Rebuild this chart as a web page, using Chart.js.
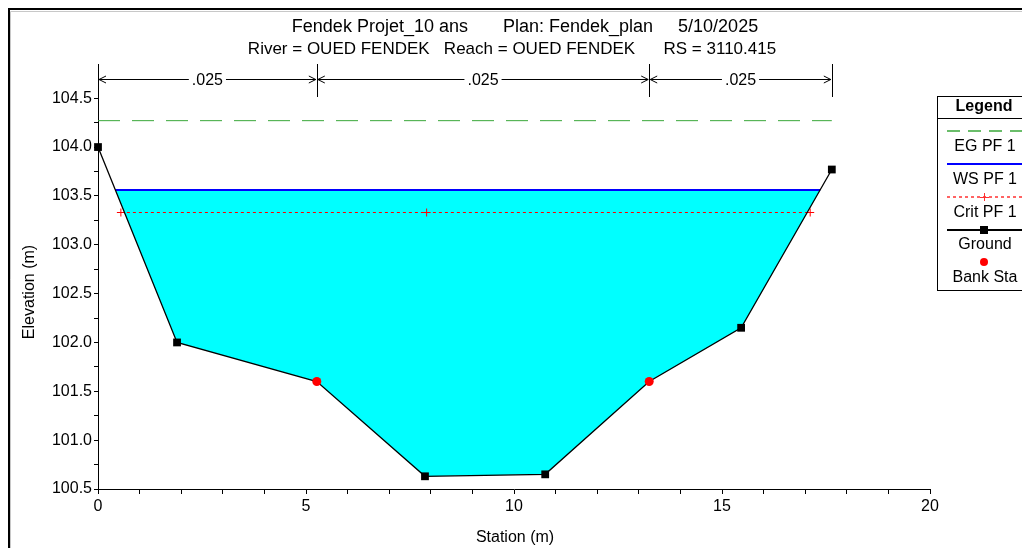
<!DOCTYPE html>
<html>
<head>
<meta charset="utf-8">
<script src="https://cdn.jsdelivr.net/npm/chart.js@4.4.1/dist/chart.umd.min.js"></script>
<style>
  body { margin: 0; background: #fff; }
  #wrap { width: 1022px; height: 548px; position: relative; }
</style>
</head>
<body>
<div id="wrap"><canvas id="xsChart" width="1022" height="548"></canvas></div>
<script>
// cross section data
const groundStation = [0, 1.9, 5.26, 7.86, 10.75, 13.25, 15.46, 17.64];
const groundElev = [104.0, 102.0, 101.6, 100.63, 100.65, 101.6, 102.15, 103.77];
const bankStation = [5.26, 13.25];
const bankElev = [101.6, 101.6];

const wsElev = 103.56;
const wsStation = [0.42, 17.36];
const critElev = 103.33;
const critStation = [0.55, 7.9, 17.12];
const egElev = 104.27;
const egStation = [0, 17.64];

// manning n blocks along the top
const nBreaks = [0, 5.26, 13.25, 17.64];
const nLabels = ['.025', '.025', '.025'];

const titleLine1 = 'Fendek Projet_10 ans       Plan: Fendek_plan     5/10/2025';
const titleLine2 = 'River = OUED FENDEK   Reach = OUED FENDEK      RS = 3110.415';

const narrow = '"Liberation Sans Narrow", "Arial Narrow", "Liberation Sans", Arial, sans-serif';
const plain = '"Liberation Sans", Arial, sans-serif';

const toPts = (xs, ys) => xs.map((x, i) => ({ x: x, y: Array.isArray(ys) ? ys[i] : ys }));

// water polygon: surface edge to edge then down along the ground
const waterPts = [{ x: wsStation[0], y: wsElev }];
groundStation.forEach((x, i) => {
    if (x > wsStation[0] && x < wsStation[1]) waterPts.push({ x: x, y: groundElev[i] });
});
waterPts.push({ x: wsStation[1], y: wsElev });
waterPts.push({ x: wsStation[0], y: wsElev });

const decorPlugin = {
    id: 'decor',
    beforeDraw(chart) {
        const c = chart.ctx;
        c.save();
        c.fillStyle = '#fff';
        c.fillRect(0, 0, chart.width, chart.height);
        // outer frame
        c.strokeStyle = '#c8c8c8';
        c.lineWidth = 1;
        c.beginPath();
        c.moveTo(10.5, 548); c.lineTo(10.5, 11.5); c.lineTo(1022, 11.5);
        c.stroke();
        c.strokeStyle = '#000';
        c.lineWidth = 2;
        c.beginPath();
        c.moveTo(9, 548); c.lineTo(9, 9); c.lineTo(1022, 9);
        c.stroke();
        c.restore();
    },
    afterDraw(chart) {
        const c = chart.ctx;
        const xs = chart.scales.x;
        c.save();
        // titles
        c.fillStyle = '#000';
        c.textAlign = 'center';
        c.textBaseline = 'middle';
        c.font = '18px ' + narrow;
        c.fillText(titleLine1, 525, 27);
        c.font = '17px ' + narrow;
        c.fillText(titleLine2, 512, 49);

        // n value dimension lines
        const yDim = 79;
        c.strokeStyle = '#000';
        c.lineWidth = 1;
        nBreaks.forEach((b) => {
            const px = Math.round(xs.getPixelForValue(b)) + 0.5;
            c.beginPath();
            c.moveTo(px, 64); c.lineTo(px, 97);
            c.stroke();
        });
        c.font = '16px ' + narrow;
        nLabels.forEach((lab, i) => {
            const x0 = xs.getPixelForValue(nBreaks[i]) + 1;
            const x1 = xs.getPixelForValue(nBreaks[i + 1]) - 1;
            const mid = (x0 + x1) / 2;
            const tw = c.measureText(lab).width + 6;
            c.beginPath();
            c.moveTo(x0, yDim + 0.5); c.lineTo(mid - tw / 2, yDim + 0.5);
            c.moveTo(mid + tw / 2, yDim + 0.5); c.lineTo(x1, yDim + 0.5);
            c.stroke();
            // arrow heads
            c.beginPath();
            c.moveTo(x0 + 7, yDim - 3); c.lineTo(x0, yDim + 0.5); c.lineTo(x0 + 7, yDim + 4);
            c.moveTo(x1 - 7, yDim - 3); c.lineTo(x1, yDim + 0.5); c.lineTo(x1 - 7, yDim + 4);
            c.stroke();
            c.fillText(lab, mid, yDim + 2);
        });

        // axis titles
        c.font = '16px ' + narrow;
        c.fillText('Station (m)', 515, 538);
        c.save();
        c.translate(30, 292);
        c.rotate(-Math.PI / 2);
        c.font = '16px ' + plain;
        c.fillText('Elevation (m)', 0, 0);
        c.restore();

        // legend box
        const lx = 937.5, ly = 96.5;
        c.strokeStyle = '#000';
        c.lineWidth = 1;
        c.strokeRect(lx, ly, 100, 194);
        c.beginPath();
        c.moveTo(lx, 118.5); c.lineTo(1022, 118.5);
        c.stroke();
        c.font = 'bold 16px ' + plain;
        c.fillText('Legend', 984, 107);
        c.font = '16px ' + plain;
        const sx0 = 947, sx1 = 1022;
        // EG
        c.strokeStyle = '#3aa83a';
        c.lineWidth = 1.5;
        c.setLineDash([13, 8]);
        c.beginPath(); c.moveTo(sx0, 131); c.lineTo(sx1, 131); c.stroke();
        c.setLineDash([]);
        c.fillText('EG PF 1', 985, 147);
        // WS
        c.strokeStyle = '#0000ff';
        c.lineWidth = 2;
        c.beginPath(); c.moveTo(sx0, 164); c.lineTo(sx1, 164); c.stroke();
        c.fillText('WS PF 1', 985, 180);
        // Crit
        c.strokeStyle = '#ff3030';
        c.lineWidth = 1.5;
        c.setLineDash([3, 3]);
        c.beginPath(); c.moveTo(sx0, 197); c.lineTo(sx1, 197); c.stroke();
        c.setLineDash([]);
        c.lineWidth = 1;
        c.beginPath(); c.moveTo(984.5, 193); c.lineTo(984.5, 201); c.moveTo(980, 197.5); c.lineTo(989, 197.5); c.stroke();
        c.fillText('Crit PF 1', 985, 213);
        // Ground
        c.strokeStyle = '#000';
        c.lineWidth = 2;
        c.beginPath(); c.moveTo(sx0, 230); c.lineTo(sx1, 230); c.stroke();
        c.fillStyle = '#000';
        c.fillRect(980, 226, 8, 8);
        c.fillText('Ground', 985, 245);
        // Bank
        c.fillStyle = '#ff0000';
        c.beginPath(); c.arc(984, 262, 4, 0, Math.PI * 2); c.fill();
        c.fillStyle = '#000';
        c.fillText('Bank Sta', 985, 278);
        c.restore();
    }
};

const fixedAxis = (size) => (scale) => {
    if (scale.isHorizontal()) scale.height = size; else scale.width = size;
};

const xsChart = new Chart(document.getElementById('xsChart'), {
    type: 'scatter',
    data: {
        datasets: [
            {
                label: 'Water',
                data: waterPts,
                showLine: true,
                borderWidth: 0,
                borderColor: 'rgba(0,0,0,0)',
                backgroundColor: '#00ffff',
                fill: 'shape',
                pointRadius: 0,
                order: 5
            },
            {
                label: 'EG PF 1',
                data: toPts(egStation, egElev),
                showLine: true,
                borderColor: '#3aa83a',
                borderWidth: 1,
                borderDash: [22, 12],
                pointRadius: 0,
                order: 4
            },
            {
                label: 'WS PF 1',
                data: toPts(wsStation, wsElev),
                showLine: true,
                borderColor: '#0000ff',
                borderWidth: 2,
                pointRadius: 0,
                order: 3
            },
            {
                label: 'Crit PF 1',
                data: toPts(critStation, critElev),
                showLine: true,
                borderColor: '#ff0000',
                borderWidth: 1,
                borderDash: [3, 3],
                pointStyle: 'cross',
                pointRadius: 4,
                pointBorderColor: '#ff0000',
                pointBorderWidth: 1,
                order: 2
            },
            {
                label: 'Ground',
                data: toPts(groundStation, groundElev),
                showLine: true,
                clip: false,
                borderColor: '#000',
                borderWidth: 1.3,
                pointStyle: 'rect',
                // bank stations get the red dot instead of a square
                pointRadius: (ctx) => (bankStation.includes(groundStation[ctx.dataIndex]) ? 0 : 5.5),
                pointBackgroundColor: '#000',
                pointBorderColor: '#000',
                pointBorderWidth: 0,
                order: 1
            },
            {
                label: 'Bank Sta',
                data: toPts(bankStation, bankElev),
                showLine: false,
                clip: false,
                pointStyle: 'circle',
                pointRadius: 4.5,
                pointBackgroundColor: '#ff0000',
                pointBorderColor: '#ff0000',
                pointBorderWidth: 0,
                order: 0
            }
        ]
    },
    options: {
        responsive: false,
        animation: false,
        layout: { padding: { top: 64, right: 92, left: 0, bottom: 0 } },
        plugins: {
            legend: { display: false },
            tooltip: { enabled: false }
        },
        scales: {
            x: {
                type: 'linear',
                min: 0,
                max: 20,
                afterFit: fixedAxis(59),
                border: { display: true, color: '#000', width: 1 },
                grid: { drawOnChartArea: false, tickLength: 5, color: '#000' },
                ticks: {
                    stepSize: 1,
                    autoSkip: false,
                    maxRotation: 0,
                    padding: 3,
                    color: '#000',
                    font: { family: narrow, size: 16 },
                    callback: (v) => (v % 5 === 0 ? String(v) : '')
                }
            },
            y: {
                type: 'linear',
                min: 100.5,
                max: 104.85,
                afterFit: fixedAxis(98),
                afterBuildTicks: (scale) => {
                    scale.ticks = scale.ticks.filter((t) => Math.round(t.value * 100) % 25 === 0);
                },
                border: { display: true, color: '#000', width: 1 },
                grid: { drawOnChartArea: false, tickLength: 4, color: '#000' },
                ticks: {
                    stepSize: 0.25,
                    autoSkip: false,
                    padding: 2,
                    color: '#000',
                    font: { family: plain, size: 16 },
                    callback: (v) => (Math.round(v * 100) % 50 === 0 ? v.toFixed(1) : '')
                }
            }
        }
    },
    plugins: [decorPlugin]
});
</script>
</body>
</html>
